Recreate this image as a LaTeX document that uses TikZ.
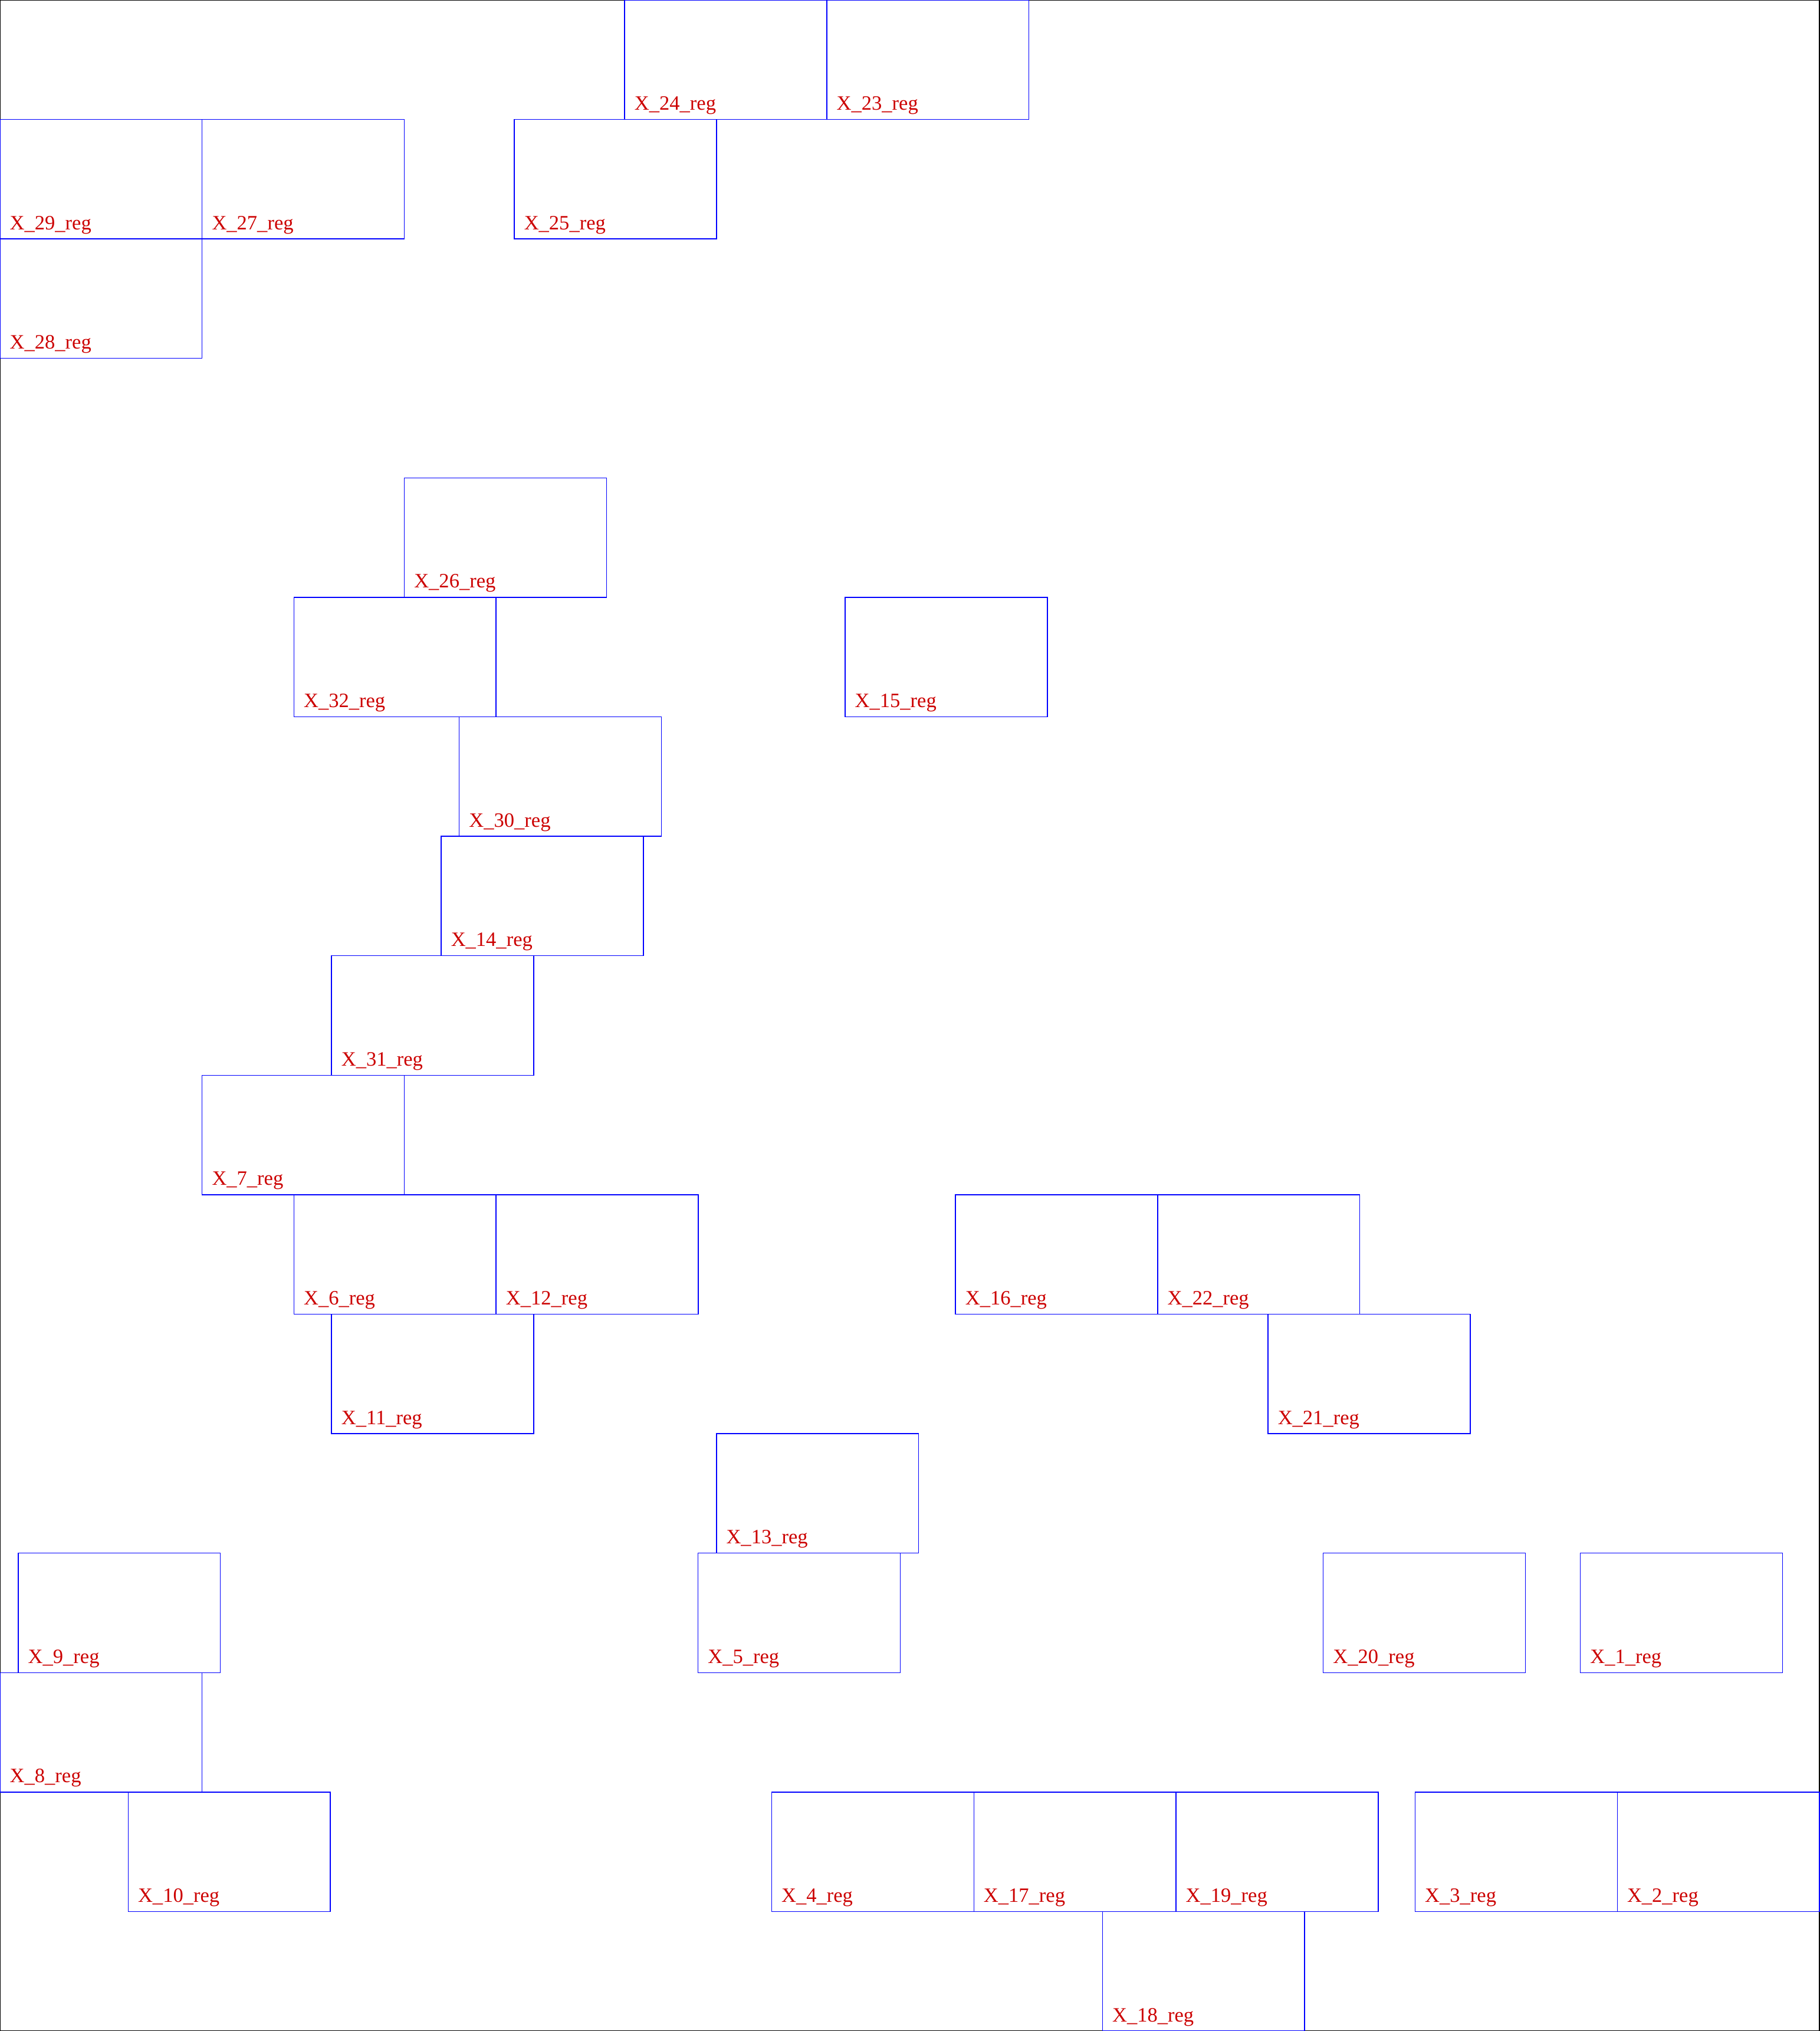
\documentclass[tikz,border=0pt]{standalone}
\usepackage{fontspec}
\setmainfont{Liberation Serif}
\definecolor{regblue}{RGB}{0,0,255}
\definecolor{regred}{RGB}{204,0,0}
\begin{document}
\begin{tikzpicture}[x=3.384cm, y=-2cm,
  regbox/.style={draw=regblue, line width=0.4pt, rectangle, anchor=north west,
    minimum width=3.384cm, minimum height=2cm, inner sep=0pt, outer sep=0pt},
  reglabel/.style={text=regred, font=\fontsize{9.7}{11}\selectfont,
    anchor=base west, inner sep=0pt, outer sep=0pt}]
\useasboundingbox (0,0) rectangle (9,17);
\draw[black, line width=0.5pt] (0,0) rectangle (9,17);
% register cells: number / column / row
\foreach \n/\c/\r in {
  24/3.090/0, 23/4.090/0,
  29/0/1, 27/1/1, 25/2.544/1,
  28/0/2,
  26/2.0/4,
  32/1.454/5, 15/4.1805/5,
  30/2.2717/6,
  14/2.1822/7,
  31/1.640/8,
  7/1/9,
  6/1.454/10, 12/2.454/10, 16/4.7264/10, 22/5.7264/10,
  11/1.640/11, 21/6.2723/11,
  13/3.544/12,
  9/0.0904/13, 5/3.4532/13, 20/6.5456/13, 1/7.8174/13,
  8/0/14,
  10/0.634/15, 4/3.8171/15, 17/4.8171/15, 19/5.8171/15, 3/7.0/15, 2/8/15,
  18/5.4534/16}
{
  \node[regbox] (b\n) at (\c,\r) {};
  \node[reglabel] (l\n) at ([xshift=4.7pt,yshift=4.5pt]b\n.south west) {X\_\n\_reg};
}
\end{tikzpicture}
\end{document}
